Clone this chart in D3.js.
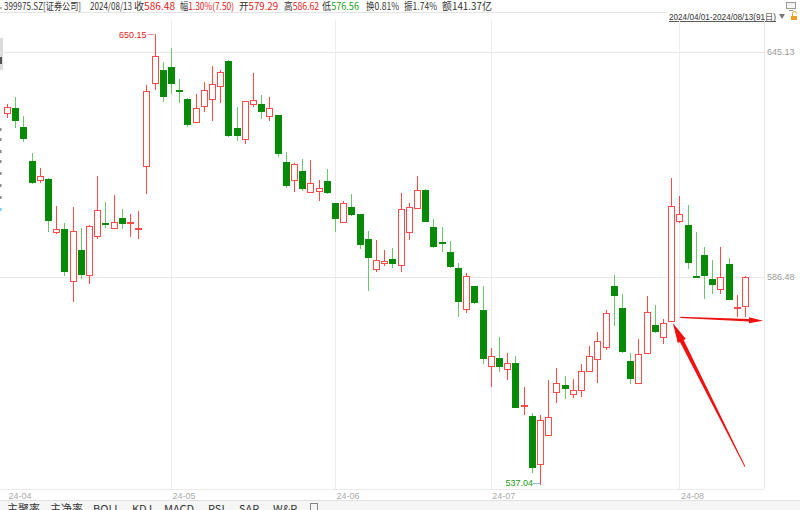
<!DOCTYPE html>
<html><head><meta charset="utf-8">
<script src="https://cdn.jsdelivr.net/npm/d3@7"></script>
<style>body{margin:0;background:#fff;overflow:hidden}svg{display:block;font-family:"Microsoft YaHei","Noto Sans CJK SC","Noto Sans",sans-serif}</style>
</head><body><svg id="c" width="800" height="510"></svg>
<script>
// ---------- data ----------
const dates = [
"2024-04-01","2024-04-02","2024-04-03","2024-04-08","2024-04-09","2024-04-10","2024-04-11","2024-04-12","2024-04-15","2024-04-16",
"2024-04-17","2024-04-18","2024-04-19","2024-04-22","2024-04-23","2024-04-24","2024-04-25","2024-04-26","2024-04-29","2024-04-30",
"2024-05-06","2024-05-07","2024-05-08","2024-05-09","2024-05-10","2024-05-13","2024-05-14","2024-05-15","2024-05-16","2024-05-17",
"2024-05-20","2024-05-21","2024-05-22","2024-05-23","2024-05-24","2024-05-27","2024-05-28","2024-05-29","2024-05-30","2024-05-31",
"2024-06-03","2024-06-04","2024-06-05","2024-06-06","2024-06-07","2024-06-11","2024-06-12","2024-06-13","2024-06-14","2024-06-17",
"2024-06-18","2024-06-19","2024-06-20","2024-06-21","2024-06-24","2024-06-25","2024-06-26","2024-06-27","2024-06-28",
"2024-07-01","2024-07-02","2024-07-03","2024-07-04","2024-07-05","2024-07-08","2024-07-09","2024-07-10","2024-07-11","2024-07-12",
"2024-07-15","2024-07-16","2024-07-17","2024-07-18","2024-07-19","2024-07-22","2024-07-23","2024-07-24","2024-07-25","2024-07-26",
"2024-07-29","2024-07-30","2024-07-31",
"2024-08-01","2024-08-02","2024-08-05","2024-08-06","2024-08-07","2024-08-08","2024-08-09","2024-08-12","2024-08-13"];
const open = [628.55,629.96,624.85,616.08,610.99,611.33,597.69,598.45,585.56,593.23,
586.98,596.83,599.97,598.70,601.24,600.31,598.60,614.70,636.83,640.34,
641.05,634.95,632.55,626.33,630.57,632.55,635.92,642.67,624.58,621.84,
630.95,630.95,627.92,628.03,615.82,610.99,613.40,607.97,608.23,610.73,
605.08,600.23,604.20,602.34,596.00,588.39,590.04,590.97,589.39,597.69,
603.80,608.49,598.96,595.23,592.65,588.72,578.58,584.25,578.34,
564.79,566.71,564.08,565.43,555.36,552.97,541.81,548.62,558.68,560.20,
558.06,559.01,563.59,566.46,569.47,584.32,578.83,566.06,560.67,567.84,
574.60,571.84,575.72,
600.55,599.61,586.85,591.89,586.06,583.43,589.79,578.76,579.29];
const high = [631.02,632.82,627.83,618.17,614.26,611.50,604.46,599.97,604.20,598.70,
599.50,612.11,605.33,607.20,603.54,602.34,603.03,636.11,650.15,642.40,
646.21,637.92,632.65,633.89,637.00,641.32,640.15,642.86,630.31,632.00,
639.53,633.62,632.82,628.10,618.43,615.56,616.52,616.26,611.06,613.84,
605.15,605.74,607.38,602.40,598.09,595.74,593.23,593.65,607.79,605.08,
612.18,608.74,600.99,599.10,595.57,590.04,587.40,584.37,584.25,
569.04,571.84,567.84,567.19,559.86,553.60,553.20,561.45,564.24,562.41,
561.62,565.27,569.59,573.05,578.34,586.98,582.20,567.98,571.20,581.79,
579.56,576.14,611.51,
607.02,604.71,597.84,593.91,590.72,594.06,591.29,581.94,586.62];
const low = [627.31,624.58,620.89,610.03,610.22,597.69,597.30,586.73,580.30,585.98,
584.74,595.91,598.70,598.45,598.45,596.58,595.91,607.46,634.95,631.49,
633.89,631.22,625.00,625.90,628.82,626.59,631.22,622.37,621.32,620.37,
630.31,626.96,626.51,617.12,608.92,608.05,608.31,607.90,605.66,607.60,
597.84,600.20,601.95,593.48,583.01,587.65,589.21,588.64,587.80,595.74,
603.75,600.20,593.65,592.65,588.85,576.70,577.68,579.80,565.27,
559.72,563.43,561.45,554.73,553.20,539.75,537.04,548.31,556.09,556.89,
557.12,557.50,563.43,560.67,568.63,574.44,567.84,560.50,560.60,567.67,
572.67,570.08,575.65,
600.13,588.54,586.55,580.97,582.28,582.28,580.70,576.70,576.56];
const close = [630.31,626.44,621.76,610.37,612.11,600.63,598.45,587.80,597.94,586.98,
599.36,603.28,599.85,600.38,599.72,600.44,598.72,634.59,643.95,632.82,
636.47,634.50,625.53,630.14,634.95,636.56,639.70,622.63,622.63,631.90,
632.28,628.98,630.14,617.75,609.52,615.30,608.66,610.37,608.92,607.64,
601.14,605.15,602.01,594.48,591.22,590.72,590.54,589.79,603.70,604.05,
608.42,600.23,593.91,595.10,588.89,580.23,586.73,579.99,566.46,
567.19,564.55,565.43,554.78,555.54,540.96,551.96,552.67,560.67,559.39,
559.08,563.66,567.26,570.80,577.53,581.71,568.08,561.62,567.59,577.78,
573.05,575.09,604.39,
602.34,590.04,586.73,586.73,584.42,586.41,580.80,578.98,586.48];
const priceTicks = [645.13, 586.48];
const monthTicks = ["2024-04-01","2024-05-06","2024-06-03","2024-07-01","2024-08-01"];
const monthLabels = ["24-04","24-05","24-06","24-07","24-08"];
// [label, value, value colour, x, width]
const headerParts = [
  ["399975.SZ[证券公司]","","#333",4,77],["2024/08/13","","#333",90,42],
  ["收","586.48","#e02020",134,41],
  ["幅","1.30%(7.50)","#e02020",180,54],
  ["开","579.29","#e02020",239,39],
  ["高","586.62","#e02020",284,35],
  ["低","576.56","#1a9a1a",322,37],
  ["换","0.81%","#333",366,33],
  ["振","1.74%","#333",404,33],
  ["额","141.37亿","#333",442,50]];
const rangeText = "2024/04/01-2024/08/13(91日)";
const tabs = [["主聚率",7],["主净率",50],["BOLL",93],["KDJ",132],["MACD",164],["RSI",208],["SAR",239],["W&R",273]];
// annotation arrows: [index, price] tail -> head
const arrows = [
  {from:[82.1,576.56], to:[92.2,575.72], w1:1.4, w2:2.4, hl:14, hw:6},
  {from:[90.0,541.2], to:[81.2,575.16], w1:0.8, w2:4.2, hl:20, hw:9}
];

// ---------- scales ----------
const svg = d3.select("#c");
const PL = 0, PR = 764, PT = 20, PB = 489;
const xi = d3.scaleLinear().domain([0, dates.length-1]).range([7, 745]);
const y = d3.scaleLog().domain([537.04, 650.15]).range([485, 33.7]);
const RED = "#ff4a4a", GREEN = "#078a07", GWICK = "#6cc66c";

// header
headerParts.forEach(([lab,val,c,xx,w]) => {
  const t = svg.append("text").attr("x", xx).attr("y", 10).attr("font-size", 10)
    .attr("textLength", w).attr("lengthAdjust", "spacingAndGlyphs");
  t.append("tspan").attr("fill","#333").text(lab);
  if (val) t.append("tspan").attr("fill",c).text(val);
});
svg.append("circle").attr("cx",1).attr("cy",8).attr("r",0.8).attr("fill","#555");
svg.append("line").attr("x1",0).attr("x2",667).attr("y1",12.5).attr("y2",12.5).attr("stroke","#e4e4e4");

// top-right controls
svg.append("text").attr("x",669).attr("y",20).attr("font-size",9).attr("fill","#333")
  .attr("textLength",107).attr("lengthAdjust","spacingAndGlyphs").attr("font-family","Liberation Sans, Arial, sans-serif").text(rangeText);
svg.append("line").attr("x1",669).attr("x2",776).attr("y1",21.5).attr("y2",21.5).attr("stroke","#333").attr("stroke-width",0.8);
svg.append("path").attr("d","M779,14 L785,14 L782,19 Z").attr("fill","#777");
svg.append("rect").attr("x",791).attr("y",16).attr("width",6).attr("height",4).attr("fill","#f0a020");
svg.append("path").attr("d","M792.5,16 V13.5 a2,2 0 0 1 4,0").attr("fill","none").attr("stroke","#f0a020").attr("stroke-width",1);
svg.append("rect").attr("x",786.5).attr("y",2.5).attr("width",9).attr("height",6).attr("fill","#f4f4f4").attr("stroke","#999");
svg.append("line").attr("x1",789).attr("x2",793).attr("y1",10.5).attr("y2",10.5).attr("stroke","#999");

// left collapsed strip
svg.append("rect").attr("x",0).attr("y",38).attr("width",3).attr("height",32).attr("fill","#dcdcdc");
svg.append("rect").attr("x",0).attr("y",57).attr("width",2).attr("height",7).attr("fill","#555");
[128,138,150,160,172,184,196,208].forEach(v=>svg.append("rect").attr("x",0).attr("y",v).attr("width",1.5).attr("height",3).attr("fill",v>200?"#6cf":"#888"));

// grid + axes
const gx = svg.append("g");
monthTicks.forEach((d,k) => {
  const xx = Math.round(xi(dates.indexOf(d))) + 0.5;
  if (k > 0) gx.append("line").attr("x1",xx).attr("x2",xx).attr("y1",PT).attr("y2",PB).attr("stroke","#ececec");
});
const xAxis = d3.axisBottom(xi).tickValues(monthTicks.map(d=>dates.indexOf(d)))
  .tickFormat((d,k)=>monthLabels[k]).tickSize(0).tickPadding(0);
const xa = svg.append("g").attr("transform",`translate(0,${PB})`).call(xAxis);
xa.select(".domain").remove();
xa.selectAll("text").attr("text-anchor","start").attr("dx",1).attr("dy",0).attr("y",10)
  .attr("font-size",9).attr("fill","#aaa").attr("font-family","Liberation Sans, Arial, sans-serif");

const yGrid = d3.axisLeft(y).tickValues(priceTicks).tickSize(PR).tickFormat("");
const yg = svg.append("g").attr("transform",`translate(${PR},0)`).call(yGrid);
yg.select(".domain").remove();
yg.selectAll("line").attr("stroke","#e6e6e6");
const yAxis = d3.axisRight(y).tickValues(priceTicks).tickSize(0).tickPadding(3).tickFormat(d3.format(".2f"));
const ya = svg.append("g").attr("transform",`translate(${PR},0)`).call(yAxis);
ya.select(".domain").attr("stroke","#e6e6e6").attr("d",`M0.5,${PT}V${PB}`);
ya.selectAll("text").attr("font-size",9).attr("fill","#999").attr("font-family","Liberation Sans, Arial, sans-serif");
svg.append("line").attr("x1",0).attr("x2",PR).attr("y1",PB+0.5).attr("y2",PB+0.5).attr("stroke","#eaeaea");

// candles
const cg = svg.append("g");
dates.forEach((d,i) => {
  const px = Math.round(xi(i));
  const o=open[i], c=close[i], h=high[i], l=low[i];
  const up = c >= o;
  const yt = Math.round(y(Math.max(o,c))), yb = Math.round(y(Math.min(o,c)));
  const yh = Math.round(y(h)), yl = Math.round(y(l));
  if (up) {
    const bh = Math.max(1, yb-yt);
    if (yh < yt) cg.append("line").attr("x1",px+0.5).attr("x2",px+0.5).attr("y1",yh).attr("y2",yt).attr("stroke",RED);
    if (yl > yt+bh) cg.append("line").attr("x1",px+0.5).attr("x2",px+0.5).attr("y1",yt+bh).attr("y2",yl).attr("stroke",RED);
    cg.append("rect").attr("x",px-2.5).attr("y",yt+0.5).attr("width",6).attr("height",bh)
      .attr("fill","#fff").attr("stroke",RED);
  } else {
    cg.append("line").attr("x1",px+0.5).attr("x2",px+0.5).attr("y1",yh).attr("y2",yl).attr("stroke",GWICK);
    cg.append("rect").attr("x",px-3).attr("y",yt).attr("width",7).attr("height",Math.max(2,yb-yt)).attr("fill",GREEN);
  }
});

// extreme labels
const iH = d3.maxIndex(high), iL = d3.minIndex(low);
const hx = xi(iH), hy = y(high[iH]);
svg.append("text").attr("x",hx-8).attr("y",hy+4).attr("text-anchor","end").attr("font-size",9)
  .attr("fill","#e02020").attr("font-family","Liberation Sans, Arial, sans-serif").text(d3.format(".2f")(high[iH]));
svg.append("line").attr("x1",hx-7).attr("x2",hx-1).attr("y1",Math.round(hy)+0.5).attr("y2",Math.round(hy)+0.5).attr("stroke","#e88");
const lx = xi(iL), ly = y(low[iL]);
svg.append("text").attr("x",lx-7).attr("y",ly+1).attr("text-anchor","end").attr("font-size",9)
  .attr("fill","#1a9a1a").attr("font-family","Liberation Sans, Arial, sans-serif").text(d3.format(".2f")(low[iL]));
svg.append("line").attr("x1",lx-7).attr("x2",lx).attr("y1",Math.round(ly)-1.5).attr("y2",Math.round(ly)-1.5).attr("stroke","#8bd");

// annotation arrows
function arrowPts(x1,y1,x2,y2,w1,w2,hl,hw){
  const dx=x2-x1, dy=y2-y1, L=Math.hypot(dx,dy), ux=dx/L, uy=dy/L, nx=-uy, ny=ux;
  const bx=x2-ux*hl, by=y2-uy*hl;
  return [[x1+nx*w1/2,y1+ny*w1/2],[bx+nx*w2/2,by+ny*w2/2],[bx+nx*hw/2,by+ny*hw/2],[x2,y2],
          [bx-nx*hw/2,by-ny*hw/2],[bx-nx*w2/2,by-ny*w2/2],[x1-nx*w1/2,y1-ny*w1/2]];
}
arrows.forEach(a => {
  const p = arrowPts(xi(a.from[0]),y(a.from[1]),xi(a.to[0]),y(a.to[1]),a.w1,a.w2,a.hl,a.hw);
  svg.append("polygon").attr("points",p.map(q=>q.join(",")).join(" ")).attr("fill","#f01010");
});

// bottom tab bar
svg.append("rect").attr("x",0).attr("y",501).attr("width",800).attr("height",9).attr("fill","#f6f6f6");
svg.append("line").attr("x1",0).attr("x2",800).attr("y1",500.5).attr("y2",500.5).attr("stroke","#e0e0e0");
tabs.forEach(([t,xx]) => svg.append("text").attr("x",xx).attr("y",513).attr("font-size",11).attr("fill","#333").text(t));
svg.append("rect").attr("x",310.5).attr("y",503.5).attr("width",7).attr("height",8).attr("fill","none").attr("stroke","#888");
</script></body></html>
